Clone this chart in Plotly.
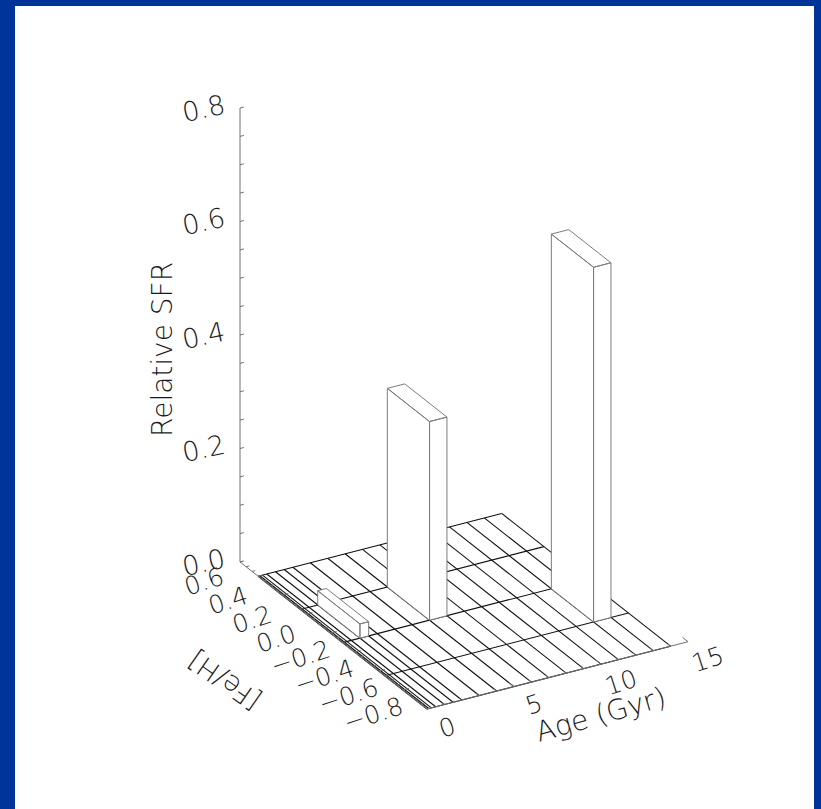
import plotly.graph_objects as go

# ---- data -----------------------------------------------------------------
# bin edges of the star-formation-history grid
age_edges = [0.0, 0.1, 0.25, 0.5, 1.0, 1.5, 2.0, 3.0, 4.0, 5.0, 6.0, 7.0,
             8.0, 9.0, 10.0, 11.0, 12.0, 13.0, 14.0]
feh_edges = [-0.8, -0.45, -0.1, 0.25, 0.6]

# non-empty cells: index of age bin, index of [Fe/H] bin, relative SFR
cell_age_bin = [4, 9, 16]
cell_feh_bin = [2, 2, 1]
cell_sfr = [0.025, 0.35, 0.625]

# axes
age_ticks = [0, 5, 10, 15]
feh_ticks = [-0.8, -0.6, -0.4, -0.2, 0.0, 0.2, 0.4, 0.6]
sfr_ticks = [0.0, 0.2, 0.4, 0.6, 0.8]
age_range = (0.0, 15.0)
feh_range = (-0.8, 0.75)
sfr_range = (0.0, 0.8)

# ---- oblique 3-D view ----------------------------------------------------
W, H = 821, 809
ORIGIN = (427.0, 709.0)           # page position of (age min, feh min, sfr 0)
AGE_VEC = (261.0, -67.3)          # page extent of the full age axis
FEH_VEC = (-187.0, -147.0)        # page extent of the full [Fe/H] axis
SFR_VEC = (0.0, -454.0)           # page extent of the full SFR axis


def proj(age, feh, sfr=0.0):
    ua = (age - age_range[0]) / (age_range[1] - age_range[0])
    uf = (feh - feh_range[0]) / (feh_range[1] - feh_range[0])
    us = (sfr - sfr_range[0]) / (sfr_range[1] - sfr_range[0])
    x = ORIGIN[0] + ua * AGE_VEC[0] + uf * FEH_VEC[0] + us * SFR_VEC[0]
    y = ORIGIN[1] + ua * AGE_VEC[1] + uf * FEH_VEC[1] + us * SFR_VEC[1]
    return x, y


def polyline(points, xs, ys):
    for p in points:
        x, y = proj(*p)
        xs.append(x)
        ys.append(y)
    xs.append(None)
    ys.append(None)


fig = go.Figure()

INK = "#1a1a1a"
GRID = "#101010"
AXIS = "#707070"
EDGE = "#7c7c7c"
FONT = "DejaVu Sans"
WEIGHT = 200


def font(size):
    return dict(size=size, color=INK, family=FONT, weight=WEIGHT)


# ---- floor grid ----------------------------------------------------------
gx, gy = [], []
for a in age_edges:
    polyline([(a, feh_edges[0]), (a, feh_edges[-1])], gx, gy)
for f in feh_edges:
    polyline([(age_edges[0], f), (age_edges[-1], f)], gx, gy)
fig.add_trace(go.Scatter(x=gx, y=gy, mode="lines",
                         line=dict(color=GRID, width=1.1), hoverinfo="skip"))

# ---- axes ----------------------------------------------------------------
ax, ay = [], []
polyline([(age_range[0], feh_range[0]), (age_range[1], feh_range[0])], ax, ay)
polyline([(age_range[0], feh_range[0]), (age_range[0], feh_range[1])], ax, ay)
polyline([(age_range[0], feh_range[1], sfr_range[0]),
          (age_range[0], feh_range[1], sfr_range[1])], ax, ay)

# age ticks point into the floor (+[Fe/H])
for i in range(int(age_range[0]), int(age_range[1]) + 1):
    ln = 0.045 if i in age_ticks else 0.022
    polyline([(i, feh_range[0]), (i, feh_range[0] + ln)], ax, ay)
# [Fe/H] ticks point along +age
k = 0
while True:
    f = round(feh_range[0] + 0.05 * k, 3)
    if f > feh_range[1] + 1e-9:
        break
    major = any(abs(f - t) < 1e-6 for t in feh_ticks)
    ln = 0.35 if major else 0.18
    polyline([(age_range[0], f), (age_range[0] + ln, f)], ax, ay)
    k += 1
# SFR ticks
k = 0
while True:
    s = round(sfr_range[0] + 0.05 * k, 3)
    if s > sfr_range[1] + 1e-9:
        break
    polyline([(age_range[0], feh_range[1], s),
              (age_range[0] + 0.22, feh_range[1], s)], ax, ay)
    k += 1
fig.add_trace(go.Scatter(x=ax, y=ay, mode="lines",
                         line=dict(color=AXIS, width=1), hoverinfo="skip"))

# ---- bars (back to front) ------------------------------------------------
order = sorted(range(len(cell_sfr)),
               key=lambda i: -(age_edges[cell_age_bin[i]] / age_range[1]
                               + feh_edges[cell_feh_bin[i]]))
for i in order:
    a0, a1 = age_edges[cell_age_bin[i]], age_edges[cell_age_bin[i] + 1]
    f0, f1 = feh_edges[cell_feh_bin[i]], feh_edges[cell_feh_bin[i] + 1]
    h = cell_sfr[i]
    faces = [
        [(a0, f0, 0), (a1, f0, 0), (a1, f0, h), (a0, f0, h), (a0, f0, 0)],
        [(a0, f0, 0), (a0, f1, 0), (a0, f1, h), (a0, f0, h), (a0, f0, 0)],
        [(a0, f0, h), (a1, f0, h), (a1, f1, h), (a0, f1, h), (a0, f0, h)],
    ]
    bx, by = [], []
    for face in faces:
        polyline(face, bx, by)
    fig.add_trace(go.Scatter(x=bx, y=by, mode="lines", fill="toself",
                             fillcolor="white",
                             line=dict(color=EDGE, width=1),
                             hoverinfo="skip"))

# ---- labels --------------------------------------------------------------
ann = []
for s in sfr_ticks:
    x, y = proj(age_range[0], feh_range[1], s)
    ann.append(dict(x=x - 37, y=y, text=f"{s:.1f}", textangle=-12,
                    font=font(27)))
for f in feh_ticks:
    x, y = proj(age_range[0], f)
    txt = f"{f:.1f}".replace("-", "\u2212")
    if txt == "\u22120.0":
        txt = "0.0"
    ann.append(dict(x=x - 54, y=y + 5, text=txt, textangle=-18,
                    font=font(25)))
for t in age_ticks:
    x, y = proj(t, feh_range[0])
    ann.append(dict(x=x + 20, y=y + 18, text=str(t), textangle=-18,
                    font=font(25)))

xa, ya = proj(8.5, feh_range[0])
ann.append(dict(x=xa + 26, y=ya + 44, text="Age (Gyr)", textangle=-16,
                font=font(28)))
xf, yf = proj(age_range[0], -0.1)
ann.append(dict(x=xf - 118, y=yf + 38, text="[Fe/H]", textangle=-145,
                font=font(27)))
xs_, ys_ = proj(age_range[0], feh_range[1], 0.4)
ann.append(dict(x=xs_ - 78, y=ys_ + 15, text="Relative SFR", textangle=-90,
                font=font(28)))
for a in ann:
    a.update(xref="x", yref="y", showarrow=False, xanchor="center",
             yanchor="middle")

fig.update_layout(
    width=W, height=H,
    margin=dict(l=0, r=0, t=0, b=0),
    paper_bgcolor="#00349a",
    plot_bgcolor="rgba(0,0,0,0)",
    showlegend=False,
    xaxis=dict(range=[0, W], visible=False, fixedrange=True),
    yaxis=dict(range=[H, 0], visible=False, fixedrange=True),
    shapes=[dict(type="rect", xref="x", yref="y", x0=15, x1=814, y0=6,
                 y1=H + 2, fillcolor="white", line=dict(width=0),
                 layer="below")],
    annotations=ann,
)

fig.write_html("out.html")
